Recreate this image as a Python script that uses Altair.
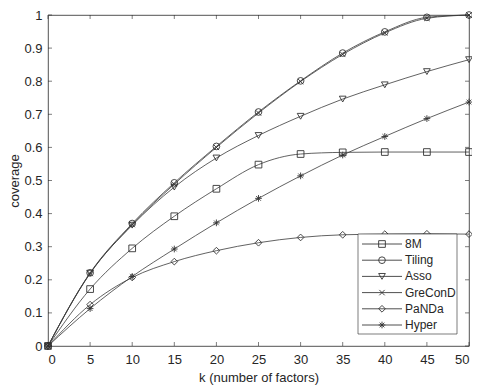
import altair as alt
import pandas as pd

k = [0, 5, 10, 15, 20, 25, 30, 35, 40, 45, 50]
series_names = ["8M", "Tiling", "Asso", "GreConD", "PaNDa", "Hyper"]
v_8m = [0, 0.172, 0.295, 0.392, 0.475, 0.548, 0.580, 0.585, 0.586, 0.586, 0.586]
v_tiling = [0, 0.221, 0.370, 0.493, 0.603, 0.707, 0.801, 0.885, 0.949, 0.993, 1.0]
v_asso = [0, 0.220, 0.365, 0.480, 0.568, 0.636, 0.694, 0.746, 0.789, 0.829, 0.865]
v_greconD = [0, 0.219, 0.367, 0.489, 0.600, 0.704, 0.799, 0.881, 0.946, 0.990, 1.0]
v_panda = [0, 0.125, 0.207, 0.255, 0.288, 0.312, 0.328, 0.336, 0.338, 0.339, 0.338]
v_hyper = [0, 0.113, 0.210, 0.293, 0.372, 0.446, 0.514, 0.577, 0.633, 0.687, 0.737]
x_ticks = [0, 5, 10, 15, 20, 25, 30, 35, 40, 45, 50]
y_ticks = [0, 0.1, 0.2, 0.3, 0.4, 0.5, 0.6, 0.7, 0.8, 0.9, 1.0]

values = [v_8m, v_tiling, v_asso, v_greconD, v_panda, v_hyper]
rows = []
for name, vals in zip(series_names, values):
    for kk, v in zip(k, vals):
        rows.append({"k": kk, "coverage": v, "method": name})
df = pd.DataFrame(rows)

W, H = 421, 331
FONT = "Liberation Sans"
TXT = "#262626"
LINE = "#3a3a3a"

shape_range = [
    "square",
    "circle",
    "triangle-down",
    "M-0.8,-0.8L0.8,0.8M0.8,-0.8L-0.8,0.8",
    "diamond",
    "M-1,0L1,0M0,-1L0,1M-0.7,-0.7L0.7,0.7M0.7,-0.7L-0.7,0.7",
]
shape_scale = alt.Scale(domain=series_names, range=shape_range)

xs = alt.Scale(domain=[0, 50], nice=False)
ys = alt.Scale(domain=[0, 1], nice=False)

axis_style = dict(labelFont=FONT, titleFont=FONT, labelFontSize=13, titleFontSize=13,
                  labelColor=TXT, titleColor=TXT, titleFontWeight="normal",
                  labelOverlap=False, grid=False, ticks=False, domain=False)
ax_x = alt.Axis(values=x_ticks, title="k (number of factors)",
                labelPadding=7, titlePadding=5, **axis_style)
ax_y = alt.Axis(values=y_ticks, format=".1~f", title="coverage",
                labelPadding=6, titlePadding=2, **axis_style)

base = alt.Chart(df)
lines = base.mark_line(interpolate="monotone", color=LINE, strokeWidth=0.8).encode(
    x=alt.X("k:Q", scale=xs, axis=ax_x),
    y=alt.Y("coverage:Q", scale=ys, axis=ax_y),
    detail="method:N",
)
points = base.mark_point(filled=False, color="#333333", strokeWidth=0.9, size=45, opacity=1).encode(
    x=alt.X("k:Q", scale=xs, axis=ax_x),
    y=alt.Y("coverage:Q", scale=ys, axis=ax_y),
    shape=alt.Shape("method:N", scale=shape_scale, legend=None),
)

xt = pd.DataFrame({"t": x_ticks})
yt = pd.DataFrame({"t": y_ticks})
tb = alt.Chart(xt).mark_rule(color=TXT, strokeWidth=0.6).encode(
    x=alt.X("t:Q", scale=xs, axis=ax_x), y=alt.value(H), y2=alt.value(H - 4))
tt = alt.Chart(xt).mark_rule(color=TXT, strokeWidth=0.6).encode(
    x=alt.X("t:Q", scale=xs, axis=ax_x), y=alt.value(0), y2=alt.value(4))
tl = alt.Chart(yt).mark_rule(color=TXT, strokeWidth=0.6).encode(
    y=alt.Y("t:Q", scale=ys, axis=ax_y), x=alt.value(0), x2=alt.value(4))
tr = alt.Chart(yt).mark_rule(color=TXT, strokeWidth=0.6).encode(
    y=alt.Y("t:Q", scale=ys, axis=ax_y), x=alt.value(W), x2=alt.value(W - 4))

# legend
leg = pd.DataFrame({"method": series_names, "i": list(range(len(series_names)))})
box = alt.Chart(pd.DataFrame({"a": [0]})).mark_rect(fill="white", stroke="#262626", strokeWidth=0.6).encode(
    x=alt.value(310), x2=alt.value(409), y=alt.value(219), y2=alt.value(319))
lbase = alt.Chart(leg).transform_calculate(py="229 + datum.i * 16.2")
leg_lines = lbase.mark_rule(color="#222222", strokeWidth=0.8).encode(
    y=alt.Y("py:Q", scale=None), x=alt.value(314), x2=alt.value(354))
leg_pts = lbase.mark_point(filled=False, color="#333333", strokeWidth=0.9, size=45, opacity=1).encode(
    y=alt.Y("py:Q", scale=None), x=alt.value(334),
    shape=alt.Shape("method:N", scale=shape_scale, legend=None))
leg_txt = lbase.mark_text(align="left", baseline="middle", font=FONT, fontSize=12, color=TXT).encode(
    y=alt.Y("py:Q", scale=None), x=alt.value(357), text="method:N")

chart = alt.layer(lines, points, tb, tt, tl, tr, box, leg_lines, leg_pts, leg_txt).properties(
    width=W, height=H,
    autosize=alt.AutoSizeParams(type="none"),
    padding={"left": 40, "top": 7, "right": 3, "bottom": 44},
    background="white",
).configure_view(stroke=TXT, strokeWidth=0.8)

chart.save("out.html", embed_options={"renderer": "svg", "actions": False})
